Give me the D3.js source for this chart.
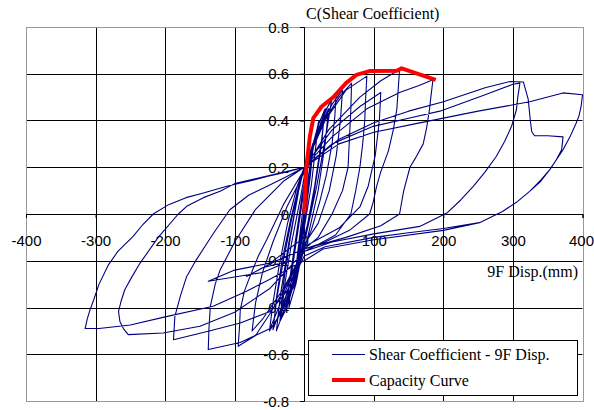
<!DOCTYPE html>
<html>
<head>
<meta charset="utf-8">
<script src="https://cdn.jsdelivr.net/npm/d3@7/dist/d3.min.js"></script>
<style>
  html, body { margin: 0; padding: 0; background: #fff; }
  svg { display: block; }
</style>
</head>
<body>
<svg id="chart" width="594" height="410"></svg>
<script>
// ---- data ----
const xTicks = [-400, -300, -200, -100, 0, 100, 200, 300, 400];
const xTickLabels = ["-400", "-300", "-200", "-100", "0", "100", "200", "300", "400"];
const yTicks = [-0.8, -0.6, -0.4, -0.2, 0, 0.2, 0.4, 0.6, 0.8];
const yTickLabels = ["-0.8", "-0.6", "-0.4", "-0.2", "0", "0.2", "0.4", "0.6", "0.8"];

// Shear coefficient - 9F displacement (mm), in time order
const disp = [
  0, 3, 7, 4, -2, -6, -3, 4, 10, 13, 9, 2, -6, -12, -15, -10, -2, 8, 16, 21, 17, 10, 0, -10, -20, -26, -21, -12, -3,
  8, 20, 30, 25, 15, 5, -8, -22, -33, -28, -18, -6, 0,
  15, 30, 46, 44, 40, 32, 22, 10, 0,
  -15, -30, -44, -40, -32, -20, -8, 0,
  20, 40, 55, 52, 46, 36, 20, 0,
  -20, -38, -45, -40, -30, -18, -6, 0,
  25, 50, 68, 67, 63, 55, 40, 20, 0,
  -20, -35, -50, -45, -36, -24, -10, 0,
  30, 60, 90, 88, 87, 84, 80, 74, 67, 45, 20, 0,
  -30, -50, -70, -95, -93, -92, -86, -78, -66, -54, -30, 0,
  35, 80, 110, 137, 135, 133, 128, 121, 110, 104, 99, 94, 65, 30, 0,
  -30, -60, -75, -70, -60, -45, -25, 0,
  20, 35, 30, 20, 5, -10, -25, -35, -30, -20, -8, 0,
  40, 80, 110, 108, 102, 92, 80, 50, 0,
  -30, -49, -92, -138, -137, -135, -128, -121, -100, -70, -30, 0,
  40, 90, 137, 165, 185, 182, 180, 176, 171, 160, 152, 143, 137, 110, 60, 0,
  -40, -83, -60, -20, -60, -138, -100, -49, 0, 0,
  50, 100, 150, 200, 260, 296, 315, 322, 325, 327, 331, 350, 372, 371, 370, 362, 353, 340, 324, 305, 285, 252, 200, 150, 100, 30, 0,
  -25, -49, -92, -138, -188, -187, -186, -178, -169, -155, -130, -107, -80, -54, -25, 0,
  25, 40, 32, 18, 2, -15, -30, -40, -34, -22, -8, 0,
  40, 99, 150, 195, 260, 300, 310, 307, 305, 298, 288, 276, 260, 243, 225, 205, 166, 100, 40, 0,
  -50, -100, -150, -203, -253, -260, -265, -267, -263, -258, -248, -236, -210, -181, -169, -145, -121, -100, -52, 0,
  50, 100, 166, 250, 324, 372, 400, 398, 395, 391, 382, 372, 353, 340, 324, 305, 285, 252, 200, 100, 27, 0,
  -16, -50, -83, -131, -200, -250, -295, -315, -312, -308, -303, -295, -282, -268, -246, -232, -217, -195, -170, -145, -110, -80, -52, -25, 0,
  15, 28, 25, 12, 0, -12, -22, -18, -8, 2, 12, 8, -2, -10, -6, 0
];
const coef = [
  0, 0.07, 0.16, 0.07, -0.05, -0.14, -0.05, 0.1, 0.25, 0.3, 0.17, 0.0, -0.15, -0.28, -0.32, -0.18, 0.02, 0.2, 0.33, 0.4, 0.3, 0.12, -0.06, -0.22, -0.35, -0.41, -0.28, -0.1, 0.08,
  0.25, 0.38, 0.45, 0.32, 0.12, -0.04, -0.2, -0.36, -0.44, -0.3, -0.12, 0.06, 0.16,
  0.32, 0.44, 0.52, 0.42, 0.3, 0.17, 0.05, -0.07, -0.14,
  -0.28, -0.4, -0.48, -0.36, -0.2, -0.03, 0.12, 0.19,
  0.35, 0.47, 0.53, 0.4, 0.25, 0.1, -0.04, -0.13,
  -0.3, -0.44, -0.495, -0.37, -0.2, -0.02, 0.13, 0.2,
  0.38, 0.5, 0.56, 0.45, 0.2, 0.1, 0.0, -0.1, -0.15,
  -0.3, -0.43, -0.5, -0.38, -0.22, -0.04, 0.12, 0.2,
  0.4, 0.53, 0.59, 0.48, 0.4, 0.3, 0.2, 0.1, 0.0, -0.09, -0.13, -0.16,
  -0.33, -0.43, -0.52, -0.566, -0.48, -0.41, -0.33, -0.267, -0.18, -0.11, 0.04, 0.19,
  0.36, 0.5, 0.57, 0.618, 0.53, 0.446, 0.36, 0.27, 0.18, 0.118, 0.05, 0.0, -0.07, -0.12, -0.15,
  -0.32, -0.45, -0.5, -0.38, -0.25, -0.12, 0.03, 0.18,
  0.36, 0.45, 0.3, 0.1, -0.1, -0.25, -0.4, -0.46, -0.3, -0.1, 0.1, 0.2,
  0.36, 0.46, 0.52, 0.4, 0.25, 0.12, 0.03, -0.06, -0.14,
  -0.35, -0.49, -0.55, -0.58, -0.49, -0.395, -0.3, -0.24, -0.12, 0.02, 0.14, 0.2,
  0.33, 0.45, 0.52, 0.55, 0.574, 0.5, 0.446, 0.37, 0.3, 0.24, 0.2, 0.1, 0.0, -0.05, -0.1, -0.15,
  -0.2, -0.267, -0.23, -0.2, -0.25, -0.288, -0.24, -0.21, -0.1, 0.2,
  0.32, 0.39, 0.44, 0.48, 0.54, 0.567, 0.565, 0.49, 0.4, 0.353, 0.335, 0.335, 0.33, 0.3, 0.275, 0.23, 0.19, 0.14, 0.097, 0.05, 0.011, -0.037, -0.062, -0.08, -0.1, -0.14, -0.18,
  -0.33, -0.417, -0.466, -0.502, -0.538, -0.49, -0.438, -0.35, -0.267, -0.195, -0.08, 0.018, 0.08, 0.118, 0.16, 0.2,
  0.4, 0.5, 0.35, 0.12, -0.1, -0.28, -0.42, -0.5, -0.34, -0.12, 0.1, 0.2,
  0.3, 0.375, 0.41, 0.44, 0.51, 0.555, 0.56, 0.5, 0.446, 0.375, 0.31, 0.246, 0.18, 0.118, 0.06, 0.004, -0.053, -0.085, -0.12, -0.16,
  -0.32, -0.42, -0.48, -0.509, -0.516, -0.49, -0.46, -0.417, -0.37, -0.324, -0.27, -0.21, -0.1, 0.0, 0.033, 0.07, 0.097, 0.13, 0.164, 0.2,
  0.3, 0.35, 0.39, 0.44, 0.48, 0.518, 0.51, 0.46, 0.42, 0.389, 0.33, 0.275, 0.19, 0.145, 0.097, 0.05, 0.011, -0.037, -0.07, -0.11, -0.15, -0.2,
  -0.224, -0.28, -0.33, -0.395, -0.44, -0.475, -0.49, -0.49, -0.45, -0.41, -0.37, -0.3, -0.22, -0.16, -0.096, -0.045, 0.0, 0.04, 0.07, 0.09, 0.12, 0.14, 0.162, 0.18, 0.2,
  0.3, 0.4, 0.3, 0.05, -0.12, -0.3, -0.4, -0.25, -0.05, 0.15, 0.3, 0.15, -0.05, -0.2, -0.1, 0.0
];

// Capacity curve
const capDisp = [0, 3, 8, 13, 25, 42, 60, 75, 95, 133, 140, 189];
const capCoef = [0, 0.2, 0.33, 0.41, 0.46, 0.5, 0.56, 0.595, 0.612, 0.613, 0.623, 0.574];

const seriesNames = ["Shear Coefficient - 9F Disp.", "Capacity Curve"];
const yTitle = "C(Shear Coefficient)";
const xTitle = "9F Disp.(mm)";

// ---- drawing ----
const SERIF = '"Liberation Serif", "Times New Roman", Times, serif';
const SANS = '"Liberation Sans", Arial, Helvetica, sans-serif';
const svg = d3.select("#chart");
const L = 26, R = 582.5, T = 27, B = 401;
const x = d3.scaleLinear().domain([-400, 400]).range([L, R]);
const y = d3.scaleLinear().domain([-0.8, 0.8]).range([B, T]);
const px = v => Math.round(v) + 0.5;

// grid
const g = svg.append("g");
g.selectAll("line.vg").data(xTicks.slice(1, -1)).enter().append("line")
  .attr("x1", d => px(x(d))).attr("x2", d => px(x(d)))
  .attr("y1", T).attr("y2", B).attr("stroke", "#000").attr("stroke-width", 1);
g.selectAll("line.hg").data(yTicks.slice(1, -1)).enter().append("line")
  .attr("y1", d => px(y(d))).attr("y2", d => px(y(d)))
  .attr("x1", L).attr("x2", R).attr("stroke", "#000").attr("stroke-width", 1);
// plot border
svg.append("rect").attr("x", px(L)).attr("y", px(T))
  .attr("width", Math.round(R) - Math.round(L)).attr("height", Math.round(B) - Math.round(T))
  .attr("fill", "none").attr("stroke", "#999").attr("stroke-width", 1);

// axes through origin
const xAxis = d3.axisBottom(x).tickValues(xTicks).tickSize(4).tickFormat((d, i) => xTickLabels[i]);
const yAxis = d3.axisLeft(y).tickValues(yTicks).tickSize(4).tickFormat((d, i) => yTickLabels[i]);
const xa = svg.append("g").attr("transform", `translate(0,${px(y(0)) - 0.5})`).call(xAxis);
const ya = svg.append("g").attr("transform", `translate(${px(x(0)) - 0.5},0)`).call(yAxis);
[xa, ya].forEach(a => {
  a.attr("font-family", SANS).attr("font-size", 15);
  a.select(".domain").attr("stroke", "#000").attr("stroke-width", 1);
  a.selectAll(".tick line").attr("stroke", "#000");
  a.selectAll("text").attr("fill", "#000");
});
xa.selectAll(".tick text").attr("y", 21);
// keep the last label inside the picture
xa.selectAll(".tick text").filter(d => d === 400).attr("text-anchor", "end").attr("x", 11);
ya.selectAll(".tick text").attr("x", -15).attr("dy", "0.34em");

// hysteresis
const pts = disp.map((d, i) => [d, coef[i]]);
const line = d3.line().x(d => x(d[0])).y(d => y(d[1]));
svg.append("path").datum(pts).attr("d", line)
  .attr("fill", "none").attr("stroke", "#000080").attr("stroke-width", 1.1).attr("stroke-linejoin", "round");

// capacity
const cap = capDisp.map((d, i) => [d, capCoef[i]]);
svg.append("path").datum(cap).attr("d", d3.line().x(d => x(d[0])).y(d => y(d[1])))
  .attr("fill", "none").attr("stroke", "#ff0000").attr("stroke-width", 4).attr("stroke-linejoin", "round");

// titles
const txt = (xx, yy, s, anchor) => svg.append("text").attr("x", xx).attr("y", yy)
  .attr("font-family", SERIF).attr("font-size", 16).attr("fill", "#000")
  .attr("text-anchor", anchor || "start").text(s);
txt(306, 19, yTitle);
txt(578, 277, xTitle, "end");

// legend
svg.append("rect").attr("x", 308.5).attr("y", 340.5).attr("width", 269).attr("height", 55)
  .attr("fill", "#fff").attr("stroke", "#000").attr("stroke-width", 1);
svg.append("line").attr("x1", 332).attr("x2", 365).attr("y1", 354.5).attr("y2", 354.5)
  .attr("stroke", "#000080").attr("stroke-width", 1.1);
txt(369, 359.5, seriesNames[0]);
svg.append("line").attr("x1", 332).attr("x2", 365).attr("y1", 380).attr("y2", 380)
  .attr("stroke", "#ff0000").attr("stroke-width", 4);
txt(369, 385.5, seriesNames[1]);
</script>
</body>
</html>
